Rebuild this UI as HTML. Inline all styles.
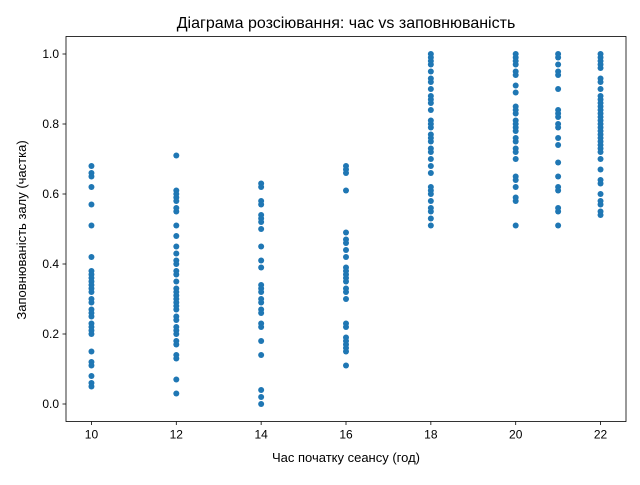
<!DOCTYPE html>
<html><head><meta charset="utf-8"><style>
body{margin:0;background:#fff}
svg text{font-family:"Liberation Sans","DejaVu Sans",sans-serif;fill:#000}
</style></head><body>
<svg id="chart" width="640" height="480" viewBox="0 0 640 480">
<rect width="640" height="480" fill="#fff"/>
<text x="346" y="28" font-size="16" text-anchor="middle">Діаграма розсіювання: час vs заповнюваність</text>
<g id="marks"></g>
<g id="axes"></g>
<text x="346" y="462" font-size="13" text-anchor="middle">Час початку сеансу (год)</text>
<text transform="translate(26,230) rotate(-90)" font-size="13" text-anchor="middle">Заповнюваність залу (частка)</text>
</svg>
<script>
const hours = [10,12,14,16,18,20,21,22];
const col10 = [0.68,0.66,0.65,0.62,0.57,0.51,0.42,0.38,0.37,0.36,0.35,0.34,0.33,0.32,0.30,0.29,0.27,0.26,0.25,0.23,0.22,0.21,0.20,0.15,0.12,0.11,0.08,0.06,0.05];
const col12 = [0.71,0.61,0.60,0.59,0.58,0.56,0.55,0.51,0.48,0.45,0.43,0.41,0.40,0.38,0.37,0.35,0.33,0.32,0.31,0.30,0.29,0.28,0.27,0.25,0.24,0.22,0.21,0.20,0.18,0.17,0.14,0.13,0.07,0.03];
const col14 = [0.63,0.62,0.58,0.57,0.54,0.53,0.52,0.50,0.45,0.41,0.39,0.34,0.33,0.32,0.30,0.29,0.27,0.26,0.23,0.22,0.18,0.14,0.04,0.02,0.00];
const col16 = [0.68,0.67,0.66,0.61,0.49,0.47,0.46,0.44,0.42,0.39,0.38,0.37,0.36,0.35,0.33,0.32,0.30,0.23,0.22,0.19,0.18,0.17,0.16,0.15,0.11];
const col18 = [1.0,0.99,0.98,0.97,0.95,0.93,0.92,0.90,0.88,0.87,0.86,0.84,0.81,0.80,0.79,0.77,0.76,0.75,0.73,0.72,0.70,0.68,0.66,0.62,0.61,0.60,0.58,0.56,0.55,0.53,0.51];
const col20 = [1.0,0.99,0.98,0.97,0.95,0.94,0.91,0.89,0.85,0.84,0.83,0.81,0.80,0.79,0.78,0.76,0.75,0.73,0.72,0.70,0.65,0.64,0.62,0.59,0.58,0.51];
const col21 = [1.0,0.99,0.97,0.95,0.94,0.90,0.84,0.83,0.82,0.80,0.79,0.76,0.74,0.69,0.65,0.62,0.61,0.56,0.55,0.51];
const col22 = [1.0,0.99,0.98,0.97,0.96,0.93,0.92,0.90,0.88,0.87,0.86,0.85,0.84,0.83,0.82,0.81,0.80,0.79,0.78,0.77,0.76,0.75,0.74,0.73,0.72,0.70,0.67,0.64,0.63,0.60,0.58,0.57,0.55,0.54];
const xTicks = [10,12,14,16,18,20,22];
const yTicks = [0.0,0.2,0.4,0.6,0.8,1.0];

const L=66,R=626,T=36.5,B=421.5;
const xMin=9.4,xMax=22.6,yMin=-0.05,yMax=1.05;
const xs=v=>L+(v-xMin)/(xMax-xMin)*(R-L);
const ys=v=>B-(v-yMin)/(yMax-yMin)*(B-T);
const NS="http://www.w3.org/2000/svg";
const marks=document.getElementById('marks');
const axes=document.getElementById('axes');
const cols=[col10,col12,col14,col16,col18,col20,col21,col22];
cols.forEach((arr,i)=>{arr.forEach(v=>{
  const c=document.createElementNS(NS,'circle');
  c.setAttribute('cx',xs(hours[i]));c.setAttribute('cy',ys(v));c.setAttribute('r',3);
  c.setAttribute('fill','#1f77b4');
  
  
  marks.appendChild(c);
});});
const fr=document.createElementNS(NS,'rect');
fr.setAttribute('x',L);fr.setAttribute('y',T);fr.setAttribute('width',R-L);fr.setAttribute('height',B-T);
fr.setAttribute('fill','none');fr.setAttribute('stroke','#000');fr.setAttribute('stroke-width','0.8');


axes.appendChild(fr);
xTicks.forEach(t=>{
  const x=xs(t);
  const l=document.createElementNS(NS,'line');
  l.setAttribute('x1',x);l.setAttribute('x2',x);l.setAttribute('y1',B);l.setAttribute('y2',B+3.5);
  l.setAttribute('stroke','#000');l.setAttribute('stroke-width','0.8');
  
  
  axes.appendChild(l);
  const tx=document.createElementNS(NS,'text');
  tx.setAttribute('x',x);tx.setAttribute('y',B+17);tx.setAttribute('font-size','12');tx.setAttribute('text-anchor','middle');
  tx.textContent=t;
  
  
  axes.appendChild(tx);
});
yTicks.forEach(t=>{
  const y=ys(t);
  const l=document.createElementNS(NS,'line');
  l.setAttribute('x1',L-3.5);l.setAttribute('x2',L);l.setAttribute('y1',y);l.setAttribute('y2',y);
  l.setAttribute('stroke','#000');l.setAttribute('stroke-width','0.8');
  
  
  axes.appendChild(l);
  const tx=document.createElementNS(NS,'text');
  tx.setAttribute('x',L-7);tx.setAttribute('y',y+4);tx.setAttribute('font-size','12');tx.setAttribute('text-anchor','end');
  tx.textContent=t.toFixed(1);
  
  
  axes.appendChild(tx);
});
</script>
</body></html>
